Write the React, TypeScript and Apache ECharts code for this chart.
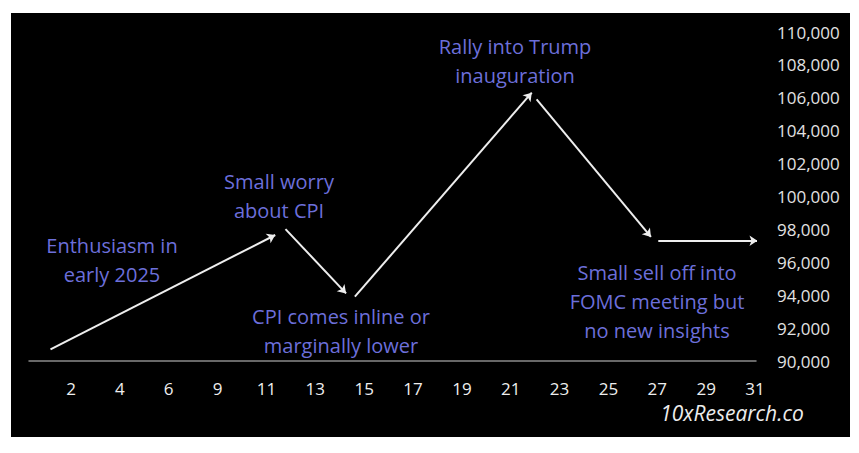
import React, { useEffect, useRef } from "react";
import * as echarts from "echarts";

const dayLabels = ["2", "4", "6", "9", "11", "13", "15", "17", "19", "21", "23", "25", "27", "29", "31"];
const yTicks = [90000, 92000, 94000, 96000, 98000, 100000, 102000, 104000, 106000, 108000, 110000];

// arrow segments (x in day-index units, y in price)
const segStartX = [-0.42, 4.39, 5.81, 9.53, 12.02];
const segStartY = [90710, 98020, 93910, 105900, 97310];
const segEndX = [4.18, 5.63, 9.43, 11.87, 14.05];
const segEndY = [97660, 94110, 106310, 97540, 97310];

const notes = [
  ["Enthusiasm in", "early 2025"],
  ["Small worry", "about CPI"],
  ["CPI comes inline or", "marginally lower"],
  ["Rally into Trump", "inauguration"],
  ["Small sell off into", "FOMC meeting but", "no new insights"],
];

const FONT = "'Open Sans', 'Noto Sans', sans-serif";

export default function App() {
  const ref = useRef<HTMLDivElement>(null);
  useEffect(() => {
    document.body.style.margin = "0";
    const chart = echarts.init(ref.current!, null, { renderer: "svg" });
    const noteColor = "#6c6fda";
    const notePos = [
      [112, 231],
      [279, 167],
      [341, 302],
      [515, 32],
      [657, 258],
    ];
    const graphics: any[] = notes.map((lines, i) => ({
      type: "text",
      x: notePos[i][0],
      y: notePos[i][1],
      style: {
        text: lines.join("\n"),
        fill: noteColor,
        font: `20px ${FONT}`,
        lineHeight: 29,
        align: "center",
        verticalAlign: "top",
      },
    }));
    graphics.push({
      type: "text",
      x: 732,
      y: 413,
      style: {
        text: "10xResearch.co",
        fill: "#ececec",
        font: `italic 21px ${FONT}`,
        align: "center",
        verticalAlign: "middle",
      },
    });
    chart.setOption({
      animation: false,
      backgroundColor: "transparent",
      grid: { left: 29, right: 103, top: 32, bottom: 92, containLabel: false },
      xAxis: {
        type: "value",
        min: -0.86,
        max: 14.02,
        axisLine: { show: true, lineStyle: { color: "#8a8a8a", width: 1.5 } },
        axisTick: { show: false },
        splitLine: { show: false },
        axisLabel: {
          customValues: dayLabels.map((_, i) => i),
          formatter: (v: number) => dayLabels[Math.round(v)] ?? "",
          color: "#eeeeee",
          fontSize: 17,
          fontFamily: FONT,
          margin: 19,
        },
      },
      yAxis: {
        type: "value",
        position: "right",
        min: yTicks[0],
        max: yTicks[yTicks.length - 1],
        interval: 2000,
        axisLine: { show: false },
        axisTick: { show: false },
        splitLine: { show: false },
        axisLabel: {
          color: "#e2e2e2",
          fontSize: 17,
          fontFamily: FONT,
          margin: 21,
          align: "left",
          formatter: (v: number) => v.toLocaleString("en-US"),
        },
      },
      series: [
        {
          type: "lines",
          coordinateSystem: "cartesian2d",
          symbol: ["none", "arrow"],
          symbolSize: 8,
          lineStyle: { color: "#eeeeee", width: 2, opacity: 1 },
          data: segStartX.map((x, i) => ({
            coords: [
              [x, segStartY[i]],
              [segEndX[i], segEndY[i]],
            ],
          })),
        },
      ],
      graphic: graphics,
    });
    return () => chart.dispose();
  }, []);
  return (
    <div style={{ position: "relative", width: 859, height: 453, background: "#ffffff" }}>
      <div style={{ position: "absolute", left: 11, top: 13, width: 839, height: 424, background: "#000000" }} />
      <div ref={ref} style={{ position: "absolute", left: 0, top: 0, width: 859, height: 453 }} />
    </div>
  );
}
